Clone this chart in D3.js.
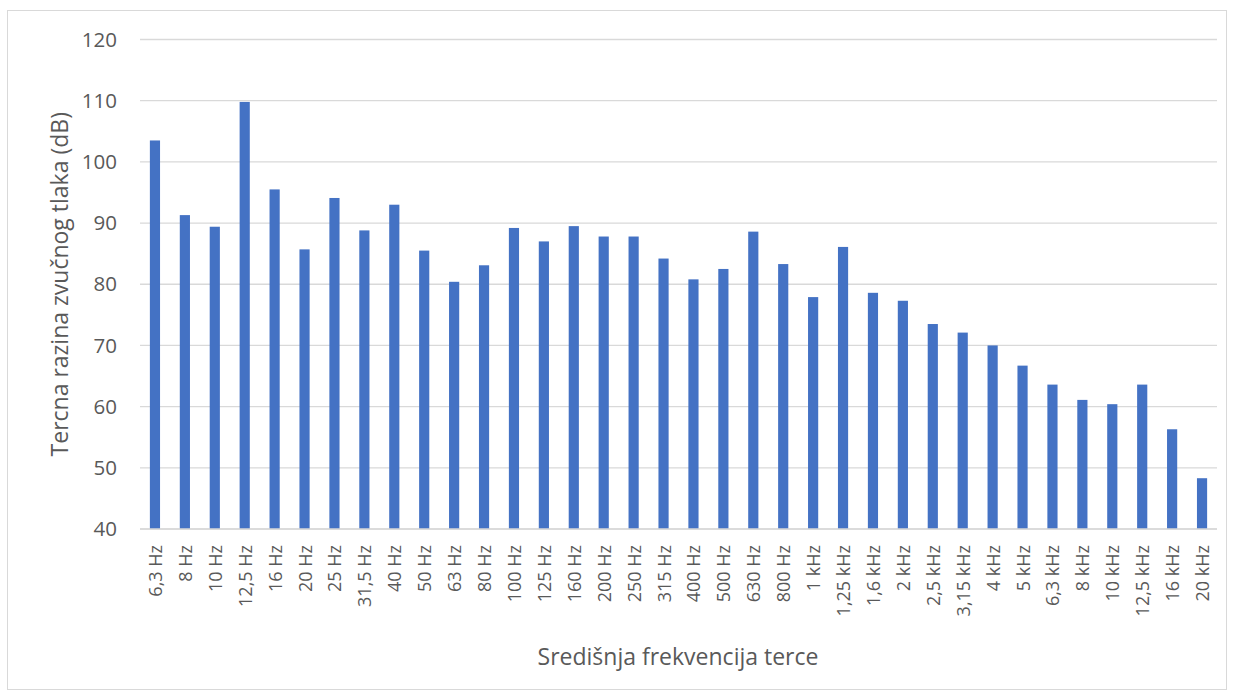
<!DOCTYPE html>
<html>
<head>
<meta charset="utf-8">
<script src="https://cdn.jsdelivr.net/npm/d3@7"></script>
<style>
  html, body { margin: 0; padding: 0; background: #fff; }
  svg { display: block; }
  text { font-family: "Open Sans", "Noto Sans", sans-serif; fill: #595959; }
</style>
</head>
<body>
<svg id="chart" width="1234" height="696"></svg>
<script>
const categories = ["6,3 Hz","8 Hz","10 Hz","12,5 Hz","16 Hz","20 Hz","25 Hz","31,5 Hz","40 Hz","50 Hz","63 Hz","80 Hz","100 Hz","125 Hz","160 Hz","200 Hz","250 Hz","315 Hz","400 Hz","500 Hz","630 Hz","800 Hz","1 kHz","1,25 kHz","1,6 kHz","2 kHz","2,5 kHz","3,15 kHz","4 kHz","5 kHz","6,3 kHz","8 kHz","10 kHz","12,5 kHz","16 kHz","20 kHz"];
const values = [103.5,91.3,89.4,109.8,95.5,85.7,94.1,88.8,93.0,85.5,80.4,83.1,89.2,87.0,89.5,87.8,87.8,84.2,80.8,82.5,88.6,83.3,77.9,86.1,78.6,77.3,73.5,72.1,70.0,66.7,63.6,61.1,60.4,63.6,56.3,48.3];
const yTicks = [40,50,60,70,80,90,100,110,120];
const yTitle = "Tercna razina zvučnog tlaka (dB)";
const xTitle = "Središnja frekvencija terce";

const svg = d3.select("#chart");
const m = {left: 140, right: 1217, top: 39.5, bottom: 529};

// chart border
svg.append("rect").attr("x", 7.5).attr("y", 10.5).attr("width", 1219).attr("height", 679)
  .attr("fill", "none").attr("stroke", "#d9d9d9").attr("stroke-width", 1);

const x = d3.scaleBand().domain(categories).range([m.left, m.right]).paddingInner(0.66).paddingOuter(0.33);
const y = d3.scaleLinear().domain([40, 120]).range([m.bottom, m.top]);

// gridlines
svg.append("g").selectAll("line").data(yTicks).join("line")
  .attr("x1", m.left).attr("x2", m.right)
  .attr("y1", d => y(d)).attr("y2", d => y(d))
  .attr("stroke", "#d9d9d9").attr("stroke-width", 1.3);

// y axis labels
const yAxis = d3.axisLeft(y).tickValues(yTicks).tickSize(0).tickPadding(23);
const gy = svg.append("g").attr("transform", `translate(${m.left},0)`).call(yAxis);
gy.select(".domain").remove();
gy.selectAll("text").attr("font-size", 20.5).style("fill", "#595959")
  .style("font-family", '"Open Sans", sans-serif');

// bars
svg.append("g").selectAll("rect").data(values).join("rect")
  .attr("x", (d, i) => x(categories[i]))
  .attr("width", x.bandwidth())
  .attr("y", d => y(d))
  .attr("height", d => y(40) - y(d))
  .attr("fill", "#4472c4");

// x axis
const xAxis = d3.axisBottom(x).tickSize(0).tickPadding(0);
const gx = svg.append("g").attr("transform", `translate(0,${m.bottom})`).call(xAxis);
gx.select(".domain").attr("stroke", "#d9d9d9").attr("stroke-width", 1.5)
  .attr("d", `M${m.left},0H${m.right}`);
gx.selectAll("text")
  .attr("font-size", 18).style("fill", "#595959")
  .style("font-family", '"Open Sans", sans-serif')
  .attr("text-anchor", "end")
  .attr("dy", null)
  .attr("transform", "translate(0,16) rotate(-90)")
  .attr("x", 0).attr("y", 0)
  .attr("dominant-baseline", "central");

// axis titles
svg.append("text").attr("transform", `translate(59,${(m.top + m.bottom) / 2}) rotate(-90)`)
  .attr("text-anchor", "middle").attr("dominant-baseline", "central")
  .attr("font-size", 23).text(yTitle);
svg.append("text").attr("x", 678).attr("y", 656)
  .attr("text-anchor", "middle").attr("dominant-baseline", "central")
  .attr("font-size", 23).text(xTitle);
</script>
</body>
</html>
